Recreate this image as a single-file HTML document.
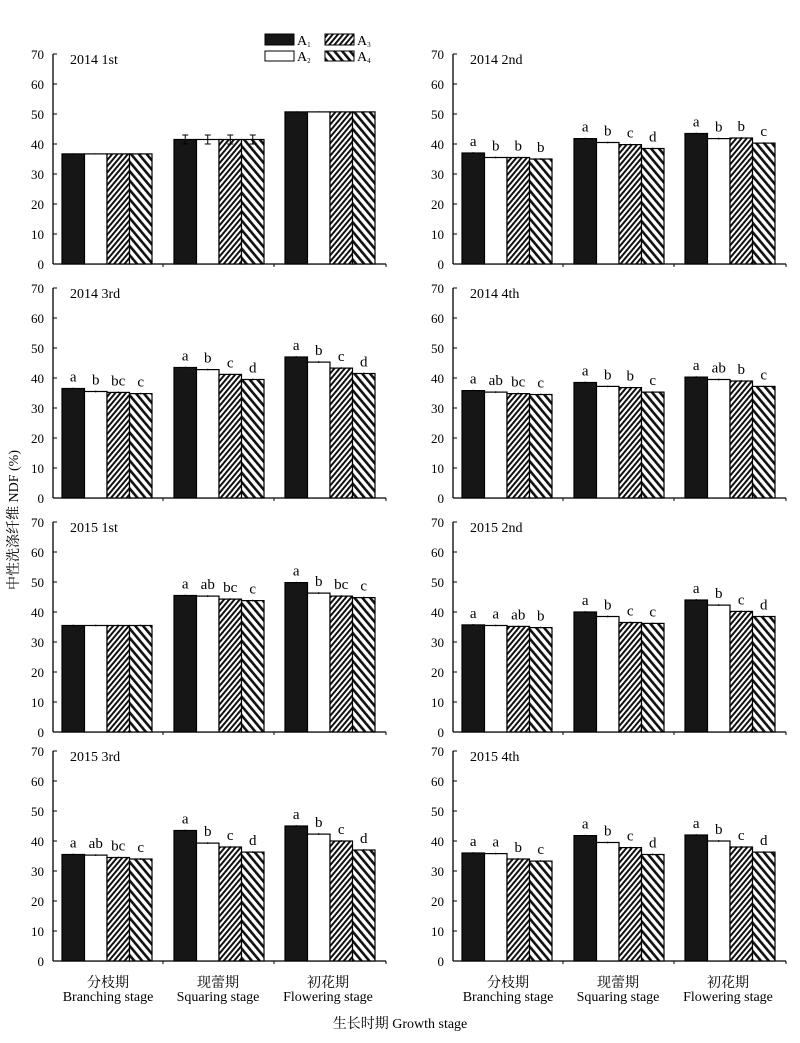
<!DOCTYPE html>
<html><head><meta charset="utf-8"><style>
body{margin:0;background:#fff;}
svg text{font-family:"Liberation Serif","Noto Serif CJK SC",serif;fill:#000;}
</style></head><body>
<svg id="s" width="800" height="1038" xmlns="http://www.w3.org/2000/svg">
<defs>
<pattern id="p3" patternUnits="userSpaceOnUse" width="4" height="4" patternTransform="rotate(40)">
<rect width="4" height="4" fill="#fff"/><rect width="2" height="4" fill="#111"/></pattern>
<pattern id="p4" patternUnits="userSpaceOnUse" width="6" height="6" patternTransform="rotate(-40)">
<rect width="6" height="6" fill="#fff"/><rect width="2.6" height="6" fill="#111"/></pattern>
</defs>
</svg>
<script>
const s=document.getElementById('s');let h='';
const fills=['#161616','#fff','url(#p3)','url(#p4)'];
const panels=[
["2014 1st",[[36.7,36.7,36.7,36.7],[41.5,41.5,41.5,41.5],[50.7,50.7,50.7,50.7]],null,[0.2,1.5,0.2]],
["2014 2nd",[[37,35.5,35.5,35],[41.8,40.5,39.8,38.5],[43.5,41.8,42,40.3]],[["a","b","b","b"],["a","b","c","d"],["a","b","b","c"]]],
["2014 3rd",[[36.5,35.5,35.2,34.8],[43.5,42.8,41.2,39.5],[47,45.3,43.3,41.5]],[["a","b","bc","c"],["a","b","c","d"],["a","b","c","d"]]],
["2014 4th",[[35.8,35.3,34.8,34.5],[38.5,37.2,36.8,35.3],[40.3,39.5,39,37.2]],[["a","ab","bc","c"],["a","b","b","c"],["a","ab","b","c"]]],
["2015 1st",[[35.5,35.5,35.5,35.5],[45.5,45.3,44.3,43.8],[49.8,46.3,45.3,44.8]],[["","","",""],["a","ab","bc","c"],["a","b","bc","c"]]],
["2015 2nd",[[35.7,35.5,35.2,34.8],[40,38.5,36.5,36.2],[44,42.3,40.2,38.5]],[["a","a","ab","b"],["a","b","c","c"],["a","b","c","d"]]],
["2015 3rd",[[35.5,35.3,34.5,34],[43.5,39.3,38,36.3],[45,42.3,40,37]],[["a","ab","bc","c"],["a","b","c","d"],["a","b","c","d"]]],
["2015 4th",[[36,35.8,34,33.3],[41.8,39.5,37.8,35.5],[42,40,38,36.3]],[["a","a","b","c"],["a","b","c","d"],["a","b","c","d"]]]];
const bases=[264,498,732,961];
panels.forEach((p,i)=>{
 const ox=(i%2)*400, by=bases[Math.floor(i/2)], ax=ox+53;
 h+=`<line x1="${ax}" y1="${by-210}" x2="${ax}" y2="${by}" stroke="#000" stroke-width="1.3"/>`;
 h+=`<line x1="${ax}" y1="${by}" x2="${ox+386}" y2="${by}" stroke="#000" stroke-width="1.3"/>`;
 for(let k=0;k<=7;k++){const y=by-k*30;
  h+=`<line x1="${ax}" y1="${y}" x2="${ax+4}" y2="${y}" stroke="#000"/>`;
  h+=`<text x="${ox+44}" y="${y+5}" font-size="13" text-anchor="end">${k*10}</text>`;}
 [163,274,386].forEach(t=>h+=`<line x1="${ox+t}" y1="${by}" x2="${ox+t}" y2="${by+3}" stroke="#000"/>`);
 h+=`<text x="${ox+70}" y="${by-200}" font-size="14">${p[0]}</text>`;
 const gx=[62,174,285];
 p[1].forEach((g,gi)=>g.forEach((v,bi)=>{
  const x=ox+gx[gi]+bi*22.5, y=by-v*3, w=22.5;
  h+=`<rect x="${x}" y="${y}" width="${w}" height="${v*3}" fill="${fills[bi]}" stroke="#000" stroke-width="1.2"/>`;
  const e=p[3]?p[3][gi]:0.3;
  h+=`<line x1="${x+w/2}" y1="${y-e*3}" x2="${x+w/2}" y2="${y+e*3}" stroke="#000"/>`;
  if(e>1)h+=`<line x1="${x+w/2-3}" y1="${y-e*3}" x2="${x+w/2+3}" y2="${y-e*3}" stroke="#000"/><line x1="${x+w/2-3}" y1="${y+e*3}" x2="${x+w/2+3}" y2="${y+e*3}" stroke="#000"/>`;
  if(p[2]&&p[2][gi][bi])h+=`<text x="${x+w/2}" y="${y-7}" font-size="15" text-anchor="middle">${p[2][gi][bi]}</text>`;
 }));
 if(i>=6){[["分枝期","Branching stage",108],["现蕾期","Squaring stage",218],["初花期","Flowering stage",328]].forEach(l=>{
  h+=`<text x="${ox+l[2]}" y="${by+26}" font-size="14" text-anchor="middle">${l[0]}</text>`;
  h+=`<text x="${ox+l[2]}" y="${by+40}" font-size="14" text-anchor="middle">${l[1]}</text>`;});}
});
h+=`<rect x="265" y="34" width="29" height="11" fill="#161616" stroke="#000"/><text x="297" y="45" font-size="14">A<tspan font-size="7" dy="2">1</tspan></text>`;
h+=`<rect x="265" y="51" width="29" height="10" fill="#fff" stroke="#000"/><text x="297" y="61" font-size="14">A<tspan font-size="7" dy="2">2</tspan></text>`;
h+=`<rect x="325" y="34" width="29" height="11" fill="url(#p3)" stroke="#000"/><text x="357" y="45" font-size="14">A<tspan font-size="7" dy="2">3</tspan></text>`;
h+=`<rect x="325" y="51" width="29" height="10" fill="url(#p4)" stroke="#000"/><text x="357" y="61" font-size="14">A<tspan font-size="7" dy="2">4</tspan></text>`;
h+=`<text transform="translate(18,520) rotate(-90)" font-size="14" text-anchor="middle">中性洗涤纤维 NDF (%)</text>`;
h+=`<text x="400" y="1028" font-size="14" text-anchor="middle">生长时期 Growth stage</text>`;
s.innerHTML+=h;
</script>
</body></html>
